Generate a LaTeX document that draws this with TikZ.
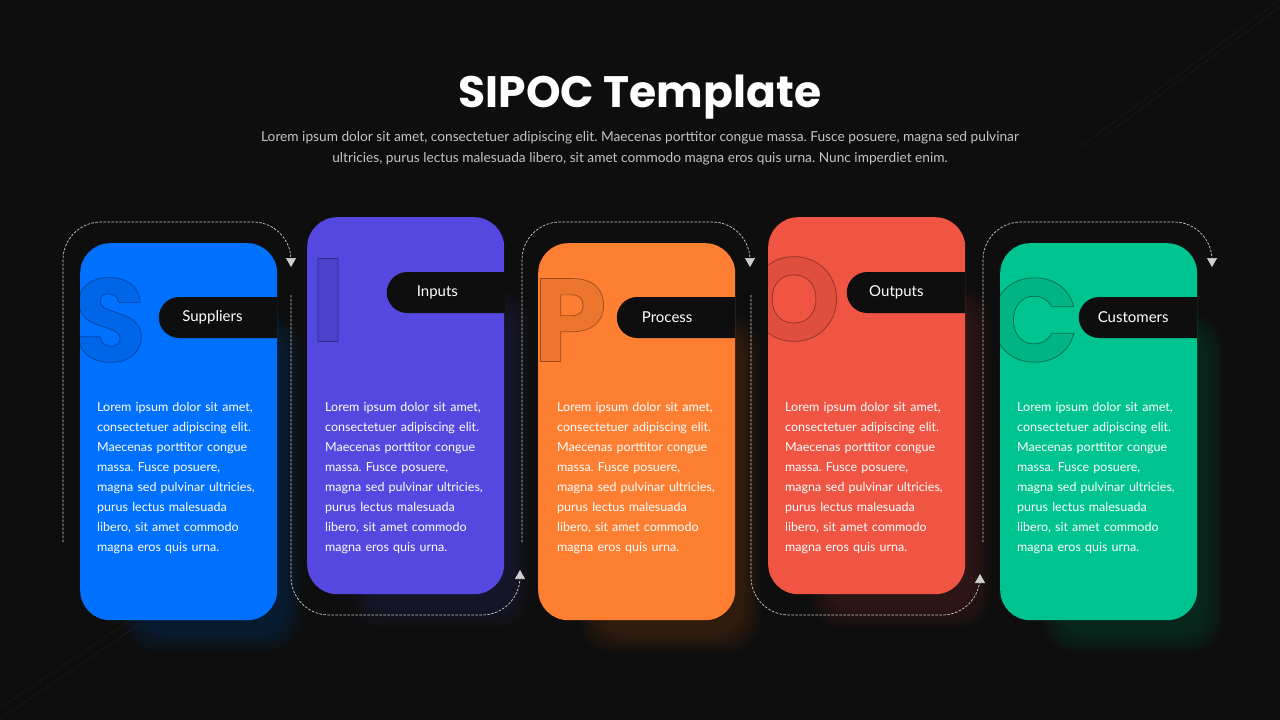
\documentclass[tikz,border=0pt]{standalone}
\usepackage{fontspec}
\setmainfont{Lato}
\newfontfamily\headfont{Poppins}
\usetikzlibrary{shapes.misc,arrows.meta}

\definecolor{bg}{HTML}{0E0E0E}
\definecolor{sblue}{HTML}{0070FF}
\definecolor{ipurple}{HTML}{5448E0}
\definecolor{porange}{HTML}{FF7F32}
\definecolor{ored}{HTML}{F05443}
\definecolor{cgreen}{HTML}{00C48F}
\definecolor{flowgray}{HTML}{CFCFCF}
\definecolor{subgray}{HTML}{C4C4C4}
\definecolor{glint}{HTML}{1E1E1E}

\frenchspacing
\newcommand{\cardtext}{Lorem ipsum dolor sit amet,\\consectetuer adipiscing elit.\\Maecenas porttitor congue\\massa. Fusce posuere,\\magna sed pulvinar ultricies,\\purus lectus malesuada\\libero, sit amet commodo\\magna eros quis urna.}
\newcommand{\hollow}[2]{\special{pdf:literal direct #2 RG 2 Tr 0.7 w}#1\special{pdf:literal direct 0 Tr}}

\tikzset{
  card/.style={fill=#1, rounded corners=30pt, minimum width=197pt, minimum height=377pt,
    anchor=north west, inner sep=0pt},
  glow/.style={fill=#1, opacity=0.022, rounded corners=30pt},
  tab/.style={fill=bg, rounded rectangle, rounded rectangle right arc=none,
    minimum width=118pt, minimum height=41pt, anchor=east, inner sep=0pt,
    text=white, font=\fontsize{15}{17}\selectfont},
  body/.style={anchor=north west, inner sep=0pt, text width=185pt, align=left,
    text=white, font=\fontsize{12.5}{20}\selectfont},
  flow/.style={flowgray, line width=0.7pt, dash pattern=on 2.5pt off 1.5pt,
    -{Triangle[width=10pt,length=9pt]}},
  bigletter/.style={inner sep=0pt, font=\headfont\bfseries\fontsize{118}{118}\selectfont},
}

\begin{document}
\begin{tikzpicture}[x=1pt,y=-1pt]
  \fill[bg] (0,0) rectangle (1280,720);
  \useasboundingbox (0,0) rectangle (1280,720);

  % faint lines in the back
  \draw[glint] (1076,150) -- (1280,0);
  \draw[glint] (1103,137) -- (1280,7);
  \draw[glint] (0,708) -- (132,619);
  \draw[glint] (0,719) -- (140,624);

  % glow under the cards
  \foreach \k in {0,...,6} {
    \fill[glow=sblue] (140-3*\k,333-3*\k) rectangle (285+3*\k,634+3*\k);
    \fill[glow=ipurple] (367-3*\k,307-3*\k) rectangle (513+3*\k,610+3*\k);
    \fill[glow=porange] (598-3*\k,333-3*\k) rectangle (743+3*\k,634+3*\k);
    \fill[glow=ored] (828-3*\k,307-3*\k) rectangle (973+3*\k,610+3*\k);
    \fill[glow=cgreen] (1060-3*\k,333-3*\k) rectangle (1205+3*\k,634+3*\k);
  }

  \begin{scope}[flow, rounded corners=38pt]
  \draw (63,542) -- (63,222) -- (291,222) -- (291,267);
  \draw (291,295) -- (291,615) -- (520,615) -- (520,570);
  \draw (522,542) -- (522,222) -- (750,222) -- (750,267);
  \draw (751,295) -- (751,615) -- (980,615) -- (980,574);
  \draw (983,542) -- (983,222) -- (1212,222) -- (1212,267);
  \end{scope}

  \node[card=sblue] (sup) at (80,243) {};
  \node[card=ipurple] (inp) at (307,217) {};
  \node[card=porange] (pro) at (538,243) {};
  \node[card=ored] (out) at (768,217) {};
  \node[card=cgreen] (cus) at (1000,243) {};

  \begin{scope}
  \clip[rounded corners=30pt] (80,243) rectangle ++(197,377);
  \node[bigletter, text=sblue!91!black] (sup-l) at (110,320) {\hollow{S}{0 0.27 0.62}};
  \end{scope}
  \begin{scope}
  \clip[rounded corners=30pt] (307,217) rectangle ++(197,377);
  \node[bigletter, text=ipurple!91!black] (inp-l) at (328,300) {\hollow{I}{0.2 0.16 0.55}};
  \end{scope}
  \begin{scope}
  \clip[rounded corners=30pt] (538,243) rectangle ++(197,377);
  \node[bigletter, text=porange!93!black] (pro-l) at (570,320) {\hollow{P}{0.62 0.3 0.1}};
  \end{scope}
  \begin{scope}
  \clip[rounded corners=30pt] (768,217) rectangle ++(197,377);
  \node[bigletter, text=ored!93!black] (out-l) at (794,299) {\hollow{O}{0.55 0.2 0.15}};
  \end{scope}
  \begin{scope}
  \clip[rounded corners=30pt] (1000,243) rectangle ++(197,377);
  \node[bigletter, text=cgreen!92!black] (cus-l) at (1034,320) {\hollow{C}{0 0.42 0.3}};
  \end{scope}

  \node[tab] (sup-t) at (277,317.5) {Suppliers\kern12pt};
  \node[tab] (inp-t) at (505,292.5) {Inputs\kern18pt};
  \node[tab] (pro-t) at (735,317.5) {Process\kern18pt};
  \node[tab] (out-t) at (965,292.5) {Outputs\kern20pt};
  \node[tab] (cus-t) at (1197,317.5) {Customers\kern10pt};

  \node[body] (sup-b) at (97,402) {\cardtext};
  \node[body] (inp-b) at (325,402) {\cardtext};
  \node[body] (pro-b) at (557,402) {\cardtext};
  \node[body] (out-b) at (785,402) {\cardtext};
  \node[body] (cus-b) at (1017,402) {\cardtext};

  \node[anchor=base, text=white, font=\headfont\bfseries\fontsize{44}{50}\selectfont]
    (title) at (640,107) {SIPOC Template};
  \node[anchor=north, align=center, text=subgray, font=\fontsize{13.7}{21}\selectfont]
    (sub) at (640,128) {Lorem ipsum dolor sit amet, consectetuer adipiscing elit. Maecenas porttitor congue massa. Fusce posuere, magna sed pulvinar\\
    ultricies, purus lectus malesuada libero, sit amet commodo magna eros quis urna. Nunc imperdiet enim.};
\end{tikzpicture}
\end{document}
